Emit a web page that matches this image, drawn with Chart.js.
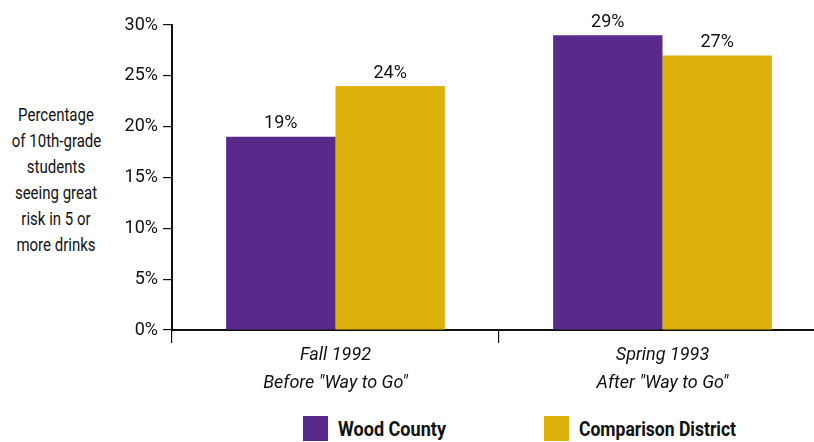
<!DOCTYPE html>
<html>
<head>
<meta charset="utf-8">
<script src="https://cdn.jsdelivr.net/npm/chart.js@4.4.1/dist/chart.umd.min.js"></script>
<style>
    html, body { margin: 0; padding: 0; background: #fff; overflow: hidden; }
    body { width: 814px; height: 442px; position: relative; font-family: Roboto, "DejaVu Sans Condensed", sans-serif; }
    #wrap { position: absolute; left: 0; top: 0; width: 826px; height: 400px; }
    #ytitle { position: absolute; left: 0; top: 102px; width: 112px; text-align: center; font-size: 19px; line-height: 26px; color: #111; white-space: nowrap; transform: scaleX(0.79); transform-origin: 56px 0; }
    .leg { position: absolute; top: 416px; height: 25px; color: #111; white-space: nowrap; }
    .leg .box { position: absolute; left: 0; top: 0; width: 25px; height: 25px; }
    .leg .txt { position: absolute; left: 35px; top: 0; font-weight: bold; font-size: 21px; line-height: 26px; transform-origin: 0 0; }
</style>
</head>
<body>
<div id="ytitle">Percentage<br>of 10th-grade<br>students<br>seeing great<br>risk in 5 or<br>more drinks</div>
<div id="wrap"><canvas id="chart"></canvas></div>
<div class="leg" style="left:303px"><div class="box" style="background:#582a8b"></div><div class="txt" data-w="108">Wood County</div></div>
<div class="leg" style="left:544px"><div class="box" style="background:#ddb10b"></div><div class="txt" data-w="157">Comparison District</div></div>
<script>
// Datos del gráfico
const categories = [["Fall 1992", "Before \"Way to Go\""], ["Spring 1993", "After \"Way to Go\""]];
const woodCounty = [19, 29];
const comparisonDistrict = [24, 27];
const yTickStep = 5;
const yMax = 30;

const FONT = "Roboto, 'DejaVu Sans Condensed', sans-serif";

// Etiquetas de valor encima de cada barra
const valueLabels = {
    id: "valueLabels",
    afterDatasetsDraw(chart) {
        const ctx = chart.ctx;
        ctx.save();
        ctx.font = "18px " + FONT;
        ctx.fillStyle = "#111";
        ctx.textAlign = "center";
        ctx.textBaseline = "alphabetic";
        chart.data.datasets.forEach((ds, i) => {
            chart.getDatasetMeta(i).data.forEach((bar, j) => {
                ctx.fillText(ds.data[j] + "%", bar.x, bar.y - 8.5);
            });
        });
        ctx.restore();
    }
};

document.addEventListener("DOMContentLoaded", () => {
    // Ajustar el ancho de los textos de la leyenda (fuente condensada)
    document.querySelectorAll(".leg .txt").forEach(el => {
        const w = el.getBoundingClientRect().width;
        el.style.transform = "scaleX(" + (parseFloat(el.dataset.w) / w) + ")";
    });

    const ctx = document.getElementById("chart").getContext("2d");
    new Chart(ctx, {
        type: "bar",
        data: {
            labels: categories,
            datasets: [
                { label: "Wood County", data: woodCounty, backgroundColor: "#582a8b" },
                { label: "Comparison District", data: comparisonDistrict, backgroundColor: "#ddb10b" }
            ]
        },
        options: {
            responsive: true,
            maintainAspectRatio: false,
            animation: false,
            events: [],
            layout: { padding: { top: 25, left: 0, right: 0, bottom: 0 } },
            datasets: { bar: { barPercentage: 1, categoryPercentage: 0.669, borderWidth: 0 } },
            scales: {
                x: {
                    afterFit(scale) { scale.height = 70; },
                    grid: { drawOnChartArea: false, color: "#111", lineWidth: 1.2, tickLength: 13, offset: true },
                    border: { color: "#111", width: 2 },
                    ticks: { color: "#111", padding: -1, font: { family: FONT, size: 18, style: "italic", lineHeight: 1.55 } }
                },
                y: {
                    min: 0,
                    max: yMax,
                    afterFit(scale) { scale.width = 172; },
                    grid: { drawOnChartArea: false, color: "#111", lineWidth: 1.2, tickLength: 9 },
                    border: { color: "#111", width: 2 },
                    ticks: {
                        stepSize: yTickStep,
                        color: "#111",
                        padding: 5,
                        font: { family: FONT, size: 18 },
                        callback: v => v + "%"
                    }
                }
            },
            plugins: {
                legend: { display: false },
                tooltip: { enabled: false }
            }
        },
        plugins: [valueLabels]
    });
});
</script>
</body>
</html>
